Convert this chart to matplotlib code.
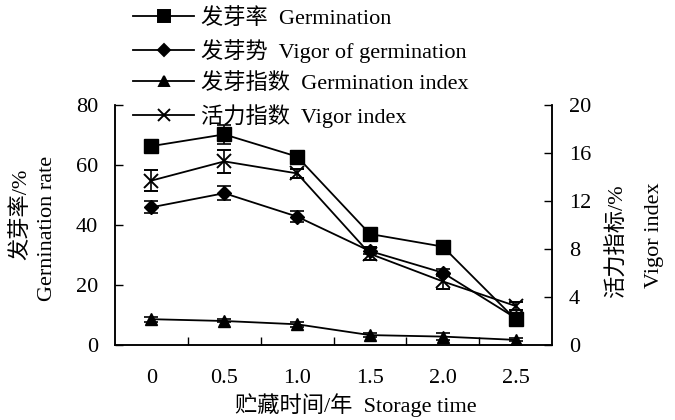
import matplotlib
matplotlib.use("Agg")
import matplotlib.pyplot as plt
from matplotlib.lines import Line2D
import numpy as np

plt.rcParams['font.family'] = ['Liberation Serif', 'Noto Sans CJK SC']
plt.rcParams['font.size'] = 16

# storage time (years)
storage_time = ['0', '0.5', '1.0', '1.5', '2.0', '2.5']

# left axis (%)
germination = [66.3, 70.2, 62.8, 37.0, 32.8, 8.5]
germination_err = [1.5, 3.2, 1.8, 1.0, 1.0, 1.0]
vigor_germination = [45.9, 50.6, 42.8, 31.3, 24.1, 9.0]
vigor_germination_err = [2.0, 2.3, 1.8, 1.0, 1.2, 0.8]
germination_index = [8.6, 8.0, 6.9, 3.3, 2.8, 1.7]
germination_index_err = [0.8, 0.5, 0.8, 0.8, 1.2, 0.5]

# right axis
vigor_index = [13.7, 15.3, 14.3, 7.6, 5.3, 3.25]
vigor_index_err = [0.87, 0.95, 0.4, 0.55, 0.6, 0.33]

labels = ['发芽率  Germination', '发芽势  Vigor of germination',
          '发芽指数  Germination index', '活力指数  Vigor index']
markers = [('s', 10), ('D', 7), ('^', 9), ('x', 10)]

x = np.arange(len(storage_time))

fig = plt.figure(figsize=(6.75, 4.2), dpi=100)
ax = fig.add_axes([0.1704, 0.1786, 0.6474, 0.5714])
ax2 = ax.twinx()

style = dict(color='black', lw=1.3, elinewidth=1.2, capsize=5, capthick=1.2,
             markeredgecolor='black', markerfacecolor='black')

ax.errorbar(x, germination, yerr=germination_err, marker='s', ms=10, **style)
ax.errorbar(x, vigor_germination, yerr=vigor_germination_err, marker='D', ms=7, **style)
ax.errorbar(x, germination_index, yerr=germination_index_err, marker='^', ms=9, **style)
ax2.errorbar(x, vigor_index, yerr=vigor_index_err, marker='x', ms=10, mew=1.4, **style)

ax.set_xlim(-0.5, len(x) - 0.5)
ax.set_ylim(0, 80)
ax2.set_ylim(0, 20)
ax.set_yticks([0, 20, 40, 60, 80])
ax2.set_yticks([0, 4, 8, 12, 16, 20])

ax.set_xticks(x)
ax.set_xticklabels(storage_time)
ax.set_xticks(x[:-1] + 0.5, minor=True)
ax.tick_params(axis='x', which='major', length=0, pad=17)
ax.tick_params(axis='x', which='minor', direction='in', length=6, width=1)
ax.tick_params(axis='y', direction='in', length=6, width=1, pad=12)
ax2.tick_params(axis='y', direction='in', length=6, width=1, pad=12)

for a in (ax, ax2):
    a.spines['top'].set_visible(False)
    for s in ('left', 'right', 'bottom'):
        a.spines[s].set_linewidth(1.1)

fig.text(0.031, 0.49, '发芽率/%', rotation=90, ha='center', va='center')
fig.text(0.07, 0.455, 'Gernination rate', rotation=90, ha='center', va='center')
fig.text(0.914, 0.426, '活力指标/%', rotation=90, ha='center', va='center')
fig.text(0.970, 0.44, 'Vigor index', rotation=90, ha='center', va='center')
fig.text(0.527, 0.035, '贮藏时间/年  Storage time', ha='center', va='center')

# legend keys: plain line with marker, no error bars
handles = [Line2D([], [], color='black', lw=1.3, marker=m, ms=s * 0.85,
                  markerfacecolor='black', markeredgecolor='black', mew=1.4)
           for m, s in markers]
fig.legend(handles, labels,
           loc='upper left', bbox_to_anchor=(0.174, 1.017), frameon=False,
           handlelength=2.75, handletextpad=0.3, labelspacing=0.45,
           borderpad=0.2)

fig.savefig('out.png', dpi=100)
